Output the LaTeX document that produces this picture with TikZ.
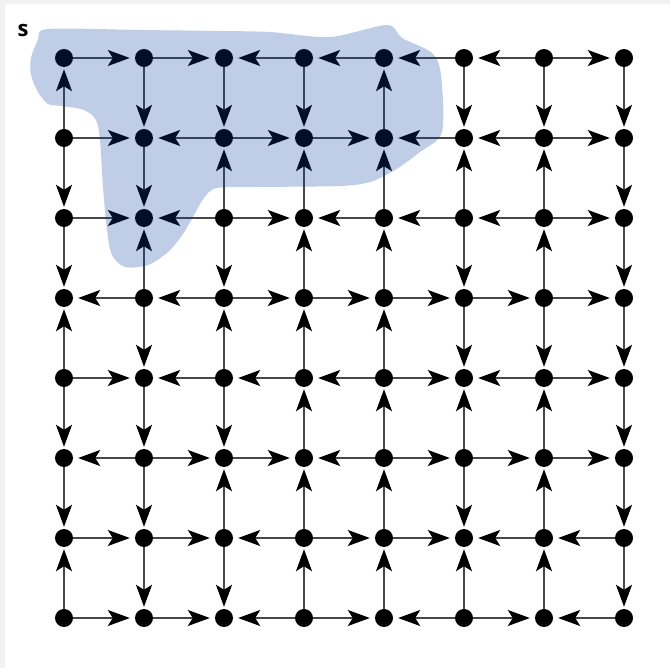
\documentclass[tikz,border=0pt]{standalone}
\usepackage{fontspec}
\setmainfont{Open Sans}
\usetikzlibrary{arrows.meta}
\definecolor{blobblue}{RGB}{0,63,157}
\begin{document}
\begin{tikzpicture}[x=1pt,y=-1pt,
  vert/.style={circle,fill=black,inner sep=0pt,minimum size=18pt},
  edgebase/.style={draw=black!72,line width=1.6pt},
  tip/.style={-{Stealth[length=22pt,width=16pt,inset=5pt,color=black]}},
  hedge/.style={edgebase,tip,shorten >=5pt},
  vedge/.style={edgebase,tip,shorten >=2pt},
  blob/.style={fill=blobblue,fill opacity=0.25,draw=none},
  lab/.style={font=\bfseries\fontsize{22}{22}\selectfont,inner sep=0pt}]
\fill[black!5] (0,0) rectangle (670,668);
\fill[white] (5,4) rectangle (670,668);
\useasboundingbox (0,0) rectangle (670,668);
% nodes
\foreach \r in {1,...,8}
  \foreach \c in {1,...,8}
    \node[vert] (n-\r-\c) at ({64+80*(\c-1)},{58+80*(\r-1)}) {};
% horizontal edges
\foreach \r/\lst in {1/{R,R,L,L,L,L,R},2/{R,L,R,R,L,L,R},3/{R,L,R,L,L,L,R},4/{L,L,R,R,R,R,R},5/{R,L,L,L,R,L,R},6/{L,R,R,L,R,R,R},7/{R,R,L,R,R,L,L},8/{R,R,L,R,L,R,L}}{
  \foreach \d [count=\c] in \lst {
    \pgfmathtruncatemacro\cn{\c+1}
    \if\d R
      \draw[hedge] (n-\r-\c) -- (n-\r-\cn);
    \else
      \draw[hedge] (n-\r-\cn) -- (n-\r-\c);
    \fi
  }
}
% vertical edges
\foreach \r/\lst in {1/{U,D,D,D,U,D,D,D},2/{D,D,U,U,U,U,U,D},3/{D,U,D,U,U,D,U,D},4/{U,D,U,U,U,D,D,D},5/{D,D,D,U,U,U,U,D},6/{D,D,U,U,U,D,U,D},7/{U,D,D,U,U,U,U,D}}{
  \foreach \d [count=\c] in \lst {
    \pgfmathtruncatemacro\rn{\r+1}
    \if\d D
      \draw[vedge] (n-\r-\c) -- (n-\rn-\c);
    \else
      \draw[vedge] (n-\rn-\c) -- (n-\r-\c);
    \fi
  }
}
% shaded region
\fill[blob] plot[smooth cycle, tension=0.5] coordinates {(48,29) (140,30) (220,31) (270,32) (330,37) (387,25) (402,38) (432,53) (441,75) (442,132) (420,152) (395,170) (370,182) (340,186) (260,187) (217,188) (204,198) (194,215) (183,234) (168,252) (148,265) (125,267) (112,255) (107,230) (103,187) (100,140) (96,120) (84,110) (62,106) (48,104) (38,92) (31,75) (31,58) (38,40)};
\node[lab] (s) at (23,30) {s};
\end{tikzpicture}
\end{document}
